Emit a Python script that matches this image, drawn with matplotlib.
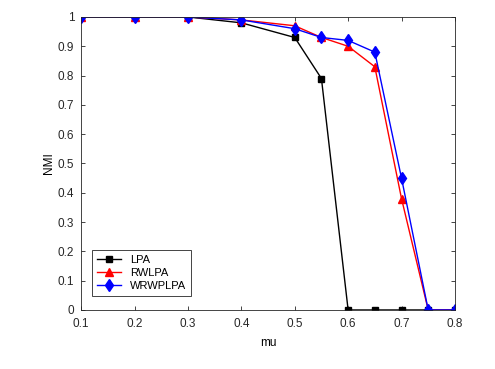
import matplotlib
matplotlib.use('Agg')
import matplotlib.pyplot as plt

mu = [0.1, 0.2, 0.3, 0.4, 0.5, 0.55, 0.6, 0.65, 0.7, 0.75, 0.8]
lpa = [1, 1, 1, 0.98, 0.93, 0.79, 0, 0, 0, 0, 0]
rwlpa = [1, 1, 1, 0.99, 0.97, 0.93, 0.90, 0.83, 0.38, 0, 0]
wrwplpa = [1, 1, 1, 0.99, 0.96, 0.93, 0.92, 0.88, 0.45, 0, 0]
xticks = [0.1, 0.2, 0.3, 0.4, 0.5, 0.6, 0.7, 0.8]
yticks = [0, 0.1, 0.2, 0.3, 0.4, 0.5, 0.6, 0.7, 0.8, 0.9, 1]

plt.rcParams['font.family'] = ['Liberation Sans', 'DejaVu Sans']
fig = plt.figure(figsize=(4.95, 3.69), dpi=100)
ax = fig.add_axes([0.164, 0.160, 0.755, 0.794])

ax.plot(mu, lpa, 'k-s', lw=1, ms=5, label='LPA')
ax.plot(mu, rwlpa, 'r-^', lw=1, ms=6, label='RWLPA')
ax.plot(mu, wrwplpa, 'b-d', lw=1, ms=6, label='WRWPLPA')

ax.set_xlim(0.1, 0.8)
ax.set_ylim(0, 1)
ax.set_xticks(xticks)
ax.set_yticks(yticks)
ax.set_xticklabels(['%g' % v for v in xticks])
ax.set_yticklabels(['%g' % v for v in yticks])
ax.tick_params(direction='in', top=True, right=True, labelsize=8.5, length=3, width=0.6, colors='#262626')
ax.tick_params(axis='x', pad=6)
ax.tick_params(axis='y', pad=5)
for s in ax.spines.values():
    s.set_linewidth(0.6)
    s.set_color('#262626')
ax.set_xlabel('mu', fontsize=8.5, labelpad=5)
ax.set_ylabel('NMI', fontsize=8.5, labelpad=2)

leg = ax.legend(loc='lower left', bbox_to_anchor=(0.015, 0.03), fontsize=8, fancybox=False,
                edgecolor='#262626', framealpha=1, borderpad=0.4, handlelength=2.2, labelspacing=0.3)
leg.get_frame().set_linewidth(0.6)

fig.savefig('out.png', dpi=100)
